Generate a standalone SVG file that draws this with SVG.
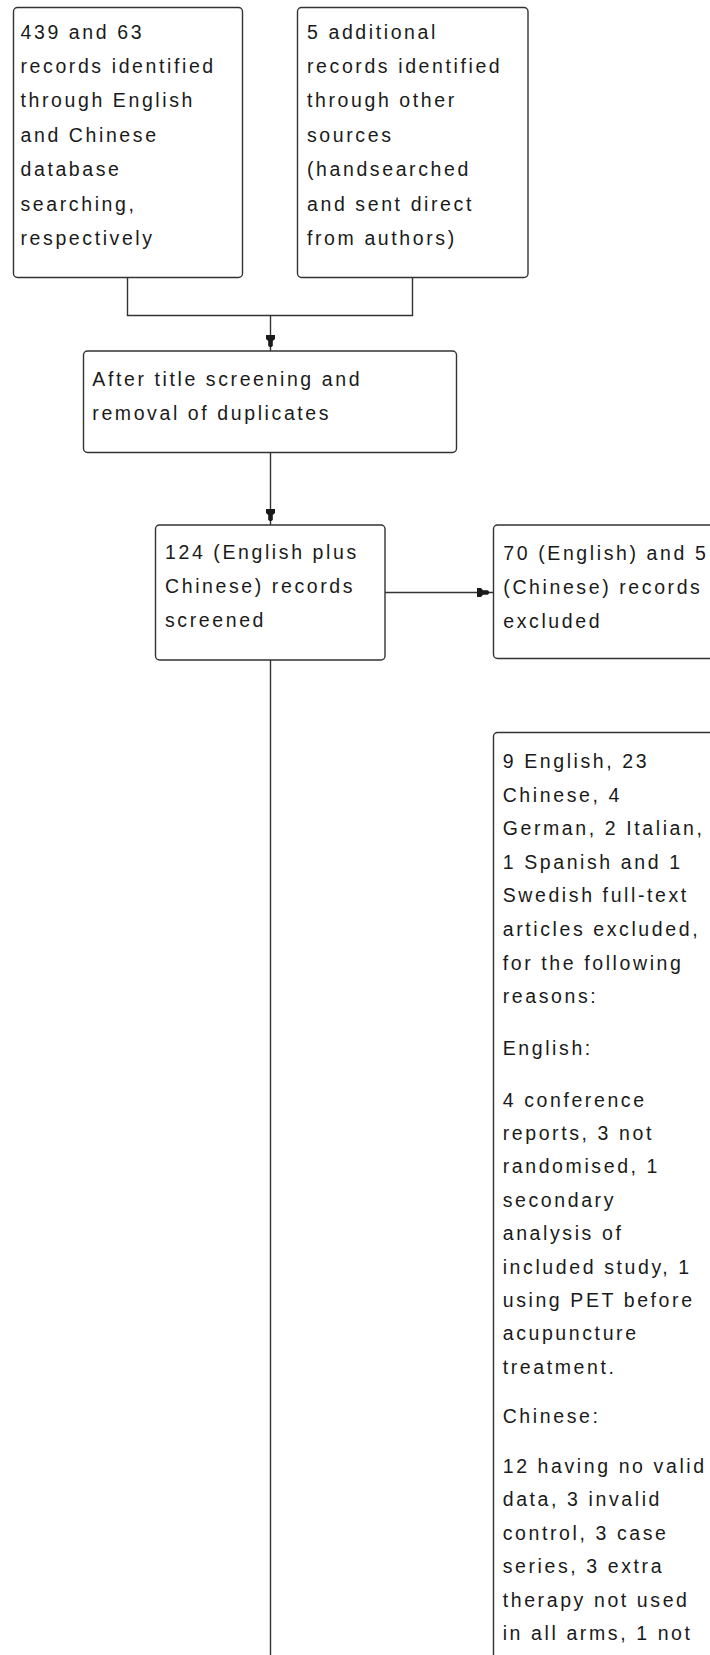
<svg xmlns="http://www.w3.org/2000/svg" width="710" height="1655" viewBox="0 0 710 1655">
<style>
.box{fill:#ffffff;stroke:#333333;stroke-width:1.4}
.con{fill:none;stroke:#333333;stroke-width:1.4}
.t{font-family:"Liberation Sans",Arial,sans-serif;font-size:19.5px;letter-spacing:2.6px;fill:#1a1a1a}
</style>
<defs>
<marker id="ah" viewBox="-17 -5 18 10" refX="0" refY="0" markerWidth="18" markerHeight="10" markerUnits="userSpaceOnUse" orient="auto">
<path d="M-16,-4.5 H-12 L-10,-2.3 H-5 L-3.5,0 L-5,2.3 H-10 L-12,4.5 H-16 Z" fill="#1a1a1a"/>
</marker>
</defs>
<rect width="710" height="1655" fill="#ffffff"/>
<g id="connectors">
<path class="con" d="M127.5,277.5 V315.5 H412.5 V277.5"/>
<path class="con" d="M270.5,315.5 V351" marker-end="url(#ah)"/>
<path class="con" d="M270.5,452.5 V525" marker-end="url(#ah)"/>
<path class="con" d="M385,592.5 H493" marker-end="url(#ah)"/>
<path class="con" d="M270.5,660 V1660"/>
</g>
<g id="n1">
<rect class="box" x="13.5" y="7.5" width="229" height="270" rx="4"/>
<text class="t" x="20.5"><tspan x="20.5" y="38.5">439 and 63</tspan><tspan x="20.5" y="72.9">records identified</tspan><tspan x="20.5" y="107.3">through English</tspan><tspan x="20.5" y="141.7">and Chinese</tspan><tspan x="20.5" y="176.1">database</tspan><tspan x="20.5" y="210.5">searching,</tspan><tspan x="20.5" y="245">respectively</tspan></text>
</g>
<g id="n2">
<rect class="box" x="297.5" y="7.5" width="230.5" height="270" rx="4"/>
<text class="t"><tspan x="307" y="38.5">5 additional</tspan><tspan x="307" y="72.9">records identified</tspan><tspan x="307" y="107.3">through other</tspan><tspan x="307" y="141.7">sources</tspan><tspan x="307" y="176.1">(handsearched</tspan><tspan x="307" y="210.5">and sent direct</tspan><tspan x="307" y="245">from authors)</tspan></text>
</g>
<g id="n3">
<rect class="box" x="83.5" y="351" width="373" height="101.5" rx="4"/>
<text class="t"><tspan x="92.3" y="386">After title screening and</tspan><tspan x="92.3" y="419.5">removal of duplicates</tspan></text>
</g>
<g id="n4">
<rect class="box" x="155.5" y="525" width="229.5" height="135" rx="4"/>
<text class="t"><tspan x="165" y="559">124 (English plus</tspan><tspan x="165" y="593">Chinese) records</tspan><tspan x="165" y="627">screened</tspan></text>
</g>
<g id="n5">
<rect class="box" x="493.5" y="525" width="240" height="133.5" rx="4"/>
<text class="t"><tspan x="503.3" y="559.5">70 (English) and 5</tspan><tspan x="503.3" y="593.5">(Chinese) records</tspan><tspan x="503.3" y="627.5">excluded</tspan></text>
</g>
<g id="n6">
<rect class="box" x="493.5" y="732.5" width="240" height="1000" rx="4"/>
<text class="t">
<tspan x="502.7" y="768">9 English, 23</tspan>
<tspan x="502.7" y="801.6">Chinese, 4</tspan>
<tspan x="502.7" y="835.2">German, 2 Italian,</tspan>
<tspan x="502.7" y="868.8">1 Spanish and 1</tspan>
<tspan x="502.7" y="902.4">Swedish full-text</tspan>
<tspan x="502.7" y="936">articles excluded,</tspan>
<tspan x="502.7" y="969.6">for the following</tspan>
<tspan x="502.7" y="1003.2">reasons:</tspan>
<tspan x="502.7" y="1055">English:</tspan>
<tspan x="502.7" y="1106.5">4 conference</tspan>
<tspan x="502.7" y="1139.9">reports, 3 not</tspan>
<tspan x="502.7" y="1173.3">randomised, 1</tspan>
<tspan x="502.7" y="1206.7">secondary</tspan>
<tspan x="502.7" y="1240.1">analysis of</tspan>
<tspan x="502.7" y="1273.5">included study, 1</tspan>
<tspan x="502.7" y="1306.9">using PET before</tspan>
<tspan x="502.7" y="1340.3">acupuncture</tspan>
<tspan x="502.7" y="1373.7">treatment.</tspan>
<tspan x="502.7" y="1423">Chinese:</tspan>
<tspan x="502.7" y="1473">12 having no valid</tspan>
<tspan x="502.7" y="1506.4">data, 3 invalid</tspan>
<tspan x="502.7" y="1539.8">control, 3 case</tspan>
<tspan x="502.7" y="1573.2">series, 3 extra</tspan>
<tspan x="502.7" y="1606.6">therapy not used</tspan>
<tspan x="502.7" y="1640">in all arms, 1 not</tspan>
</text>
</g>
</svg>
